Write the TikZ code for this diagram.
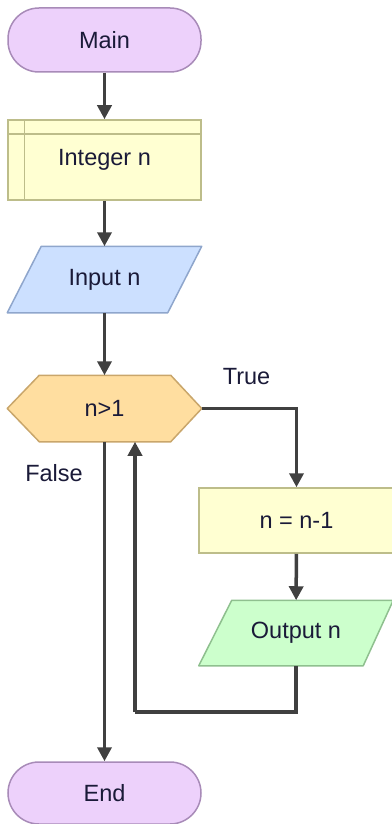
\documentclass[tikz,border=0pt]{standalone}
\usepackage{fontspec}
\setmainfont{Liberation Sans}
\usetikzlibrary{arrows.meta,backgrounds}
\definecolor{termfill}{HTML}{EDD1FB}
\definecolor{termdraw}{HTML}{A88BB8}
\definecolor{yelfill}{HTML}{FFFFD2}
\definecolor{yeldraw}{HTML}{BDBD8A}
\definecolor{infill}{HTML}{CCE0FF}
\definecolor{indraw}{HTML}{8FA6CC}
\definecolor{decfill}{HTML}{FFDEA0}
\definecolor{decdraw}{HTML}{C9A66B}
\definecolor{outfill}{HTML}{CCFFCC}
\definecolor{outdraw}{HTML}{8FC08F}
\definecolor{arrowc}{HTML}{404040}
\definecolor{textc}{HTML}{1A1A38}
\tikzset{
  base/.style={inner sep=0pt, text=textc, font=\fontsize{23.5}{27}\selectfont, line width=1.5pt},
  term/.style={base, draw=termdraw, fill=termfill, rounded corners=31pt, minimum width=193pt},
  procbox/.style={base, draw=yeldraw, fill=yelfill, minimum width=193pt},
  plain/.style={base, minimum width=193pt},
  flow/.style={draw=arrowc, line width=3.5pt, -{Triangle[width=14pt,length=14pt]}},
  link/.style={draw=arrowc, line width=3.5pt},
  lbl/.style={inner sep=0pt, text=textc, font=\fontsize{23.5}{27}\selectfont},
}
\begin{document}
\begin{tikzpicture}[x=1pt,y=-1pt]
\useasboundingbox (0,0) rectangle (391,824);
% nodes
\node[term, minimum height=64pt] (main) at (104.5,40) {Main};
\node[procbox, minimum height=80pt] (int) at (104.5,160) {Integer n};
\draw[yeldraw, line width=1.5pt] ([yshift=-15pt]int.north west) -- ([yshift=-15pt]int.north east);
\draw[yeldraw, line width=1.5pt] ([xshift=17pt]int.north west) -- ([xshift=17pt]int.south west);
\node[plain, minimum height=65pt] (in) at (104.5,279.5) {Input n};
\node[plain, minimum height=65pt] (dec) at (104.5,408.5) {n>1};
\node[procbox, minimum width=195pt, minimum height=65pt] (proc) at (296.5,520.5) {n = n-1};
\node[plain, minimum height=64pt] (out) at (296,633) {Output n};
\node[term, minimum height=62pt] (end) at (104.5,793) {End};
\begin{scope}[on background layer]
\filldraw[fill=infill, draw=indraw, line width=1.5pt, line join=round]
  ([xshift=34pt]in.north west) -- (in.north east) -- ([xshift=-34pt]in.south east) -- (in.south west) -- cycle;
\filldraw[fill=decfill, draw=decdraw, line width=1.5pt, line join=round]
  (dec.west) -- ([xshift=32pt]dec.north west) -- ([xshift=-31pt]dec.north east) -- (dec.east)
  -- ([xshift=-31pt]dec.south east) -- ([xshift=32pt]dec.south west) -- cycle;
\filldraw[fill=outfill, draw=outdraw, line width=1.5pt, line join=round]
  ([xshift=33pt]out.north west) -- (out.north east) -- ([xshift=-30pt]out.south east) -- (out.south west) -- cycle;
\end{scope}
% labels
\node[lbl] (tlab) at (246.5,377) {True};
\node[lbl] (flab) at (54,473) {False};
% connectors
\coordinate (lb) at (135,712);
\draw[flow] (main) -- (int);
\draw[flow] (int) -- (in);
\draw[flow] (in) -- (dec);
\draw[flow] (dec.east) -| (proc.north);
\draw[flow] (proc) -- (out);
\draw[link] (out.south) |- (lb);
\draw[flow] (lb) -- (lb |- dec.south);
\draw[flow] (dec) -- (end);
\end{tikzpicture}
\end{document}
